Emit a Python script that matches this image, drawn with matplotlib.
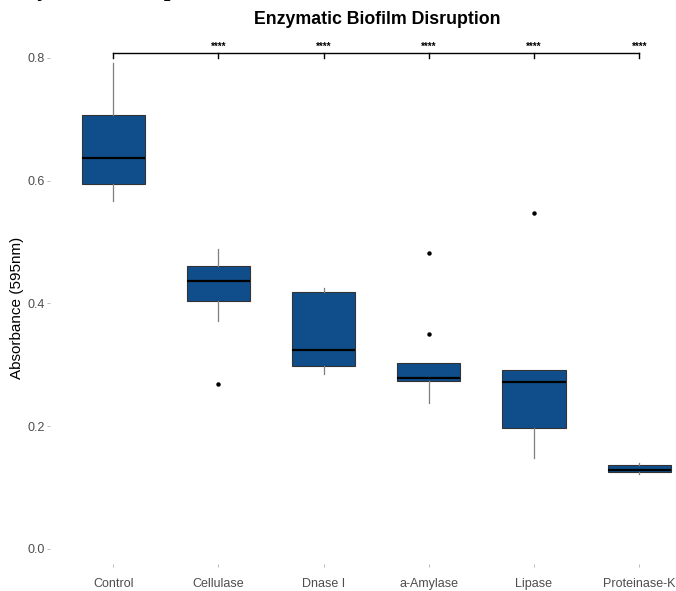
import matplotlib.pyplot as plt
import numpy as np

# box statistics
groups = ['Control', 'Cellulase', 'Dnase I', 'a-Amylase', 'Lipase', 'Proteinase-K']
whis_lo = [0.567, 0.371, 0.285, 0.238, 0.148, 0.122]
q1 = [0.595, 0.404, 0.298, 0.273, 0.197, 0.125]
med = [0.637, 0.437, 0.324, 0.278, 0.272, 0.129]
q3 = [0.707, 0.461, 0.419, 0.303, 0.292, 0.136]
whis_hi = [0.792, 0.489, 0.425, 0.303, 0.292, 0.140]
fliers = [[], [0.269], [], [0.482, 0.350], [0.547], []]

# significance vs Control
sig_labels = ['****', '****', '****', '****', '****']
bracket_y = 0.808

plt.rcParams['font.family'] = ['Liberation Sans', 'DejaVu Sans']

fig = plt.figure(figsize=(6.76, 5.91), dpi=100)
W, H = 676, 591
# axes in pixel terms
left, right, top, bottom = 50, 676, 27, 564.3
ax = fig.add_axes([left / W, 1 - bottom / H, (right - left) / W, (bottom - top) / H])

stats = []
for i, g in enumerate(groups):
    stats.append(dict(label=g, med=med[i], q1=q1[i], q3=q3[i],
                      whislo=whis_lo[i], whishi=whis_hi[i], fliers=fliers[i]))

pos = np.arange(len(groups))
ax.bxp(stats, positions=pos, widths=0.6, patch_artist=True, showcaps=False,
       boxprops=dict(facecolor='#104E8B', edgecolor='#333333', linewidth=0.8),
       medianprops=dict(color='black', linewidth=1.6),
       whiskerprops=dict(color='#7f7f7f', linewidth=0.9),
       flierprops=dict(marker='o', markerfacecolor='black', markeredgecolor='black',
                       markersize=2.2))

# bracket
ax.plot([pos[0], pos[-1]], [bracket_y, bracket_y], color='black', lw=1.0)
for p in pos:
    ax.plot([p, p], [bracket_y, bracket_y - 0.008], color='black', lw=1.0)
for p, s in zip(pos[1:], sig_labels):
    ax.text(p, bracket_y + 0.001, s, ha='center', va='bottom', fontsize=7,
            fontweight='bold')

ax.set_xlim(-0.6, 5.35)
ax.set_ylim(-0.025, 0.85)
ax.set_yticks([0.0, 0.2, 0.4, 0.6, 0.8])
ax.set_yticklabels(['0.0', '0.2', '0.4', '0.6', '0.8'])
ax.set_xticks(pos)
ax.set_xticklabels(groups)
ax.tick_params(axis='both', colors='#b0b0b0', labelcolor='#4d4d4d', labelsize=9,
               length=2, width=0.6, pad=2)
ax.tick_params(axis='x', pad=8)
for s in ax.spines.values():
    s.set_visible(False)

ax.set_ylabel('Absorbance (595nm)', fontsize=11, va='center')
ax.yaxis.set_label_coords(-0.053, 0.477)
fig.text(377 / W, 1 - 19 / H, 'Enzymatic Biofilm Disruption', ha='center',
         va='center', fontsize=12.8, fontweight='bold')

# cut-off heading from the page above the chart
fig.text(2 / W, 1 + 4 / H, 'Enzymatic Disruption', ha='left', va='baseline',
         fontsize=17, family='Liberation Serif', fontstyle='italic',
         fontweight='bold')

fig.savefig('out.png', dpi=100)
